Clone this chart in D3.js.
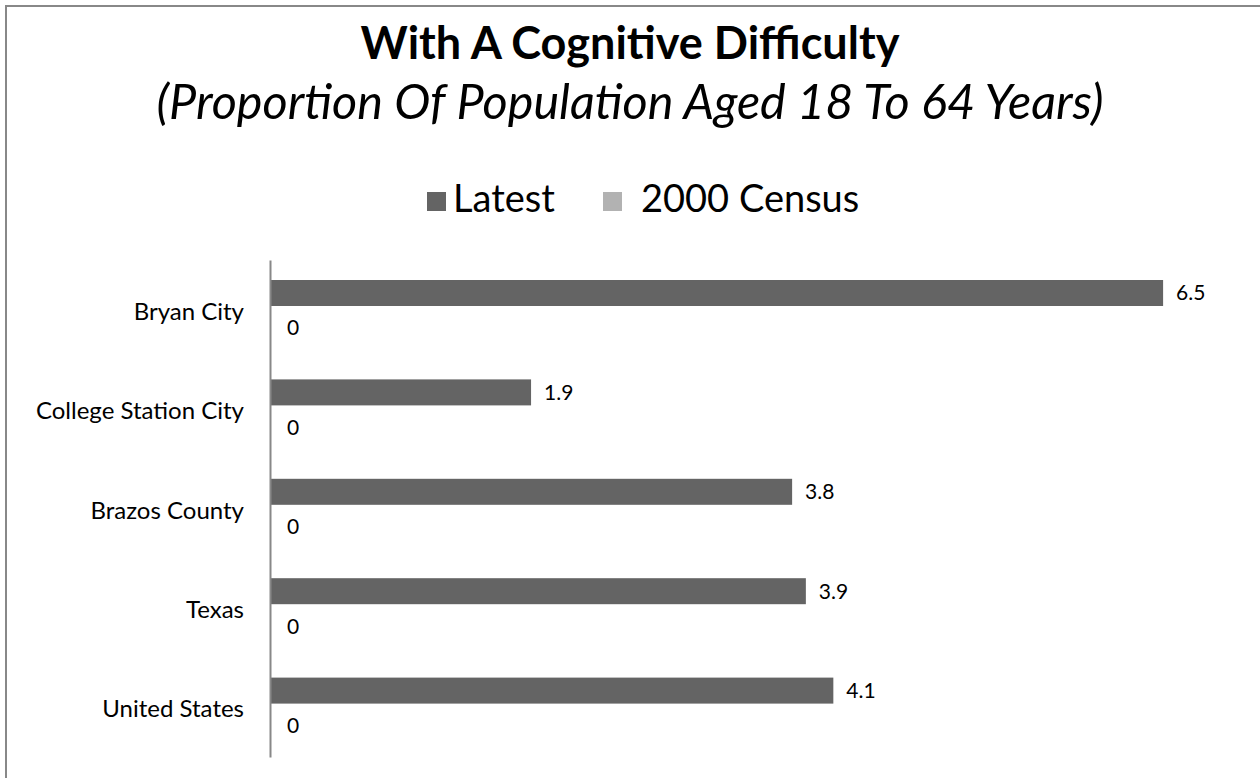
<!DOCTYPE html>
<html><head><meta charset="utf-8">
<script src="https://cdn.jsdelivr.net/npm/d3@7"></script>
<style>body{margin:0;background:#fff}svg{display:block}text{font-family:Lato,"Open Sans",sans-serif}</style>
</head><body><svg id="c" width="1260" height="778"></svg>
<script>
const categories = ["Bryan City","College Station City","Brazos County","Texas","United States"];
const latest = [6.5, 1.9, 3.8, 3.9, 4.1];
const census2000 = [0, 0, 0, 0, 0];
const seriesNames = ["Latest","2000 Census"];
const seriesColors = ["#646464","#b2b2b2"];
const titleText = "With A Cognitive Difficulty";
const subtitleText = "(Proportion Of Population Aged 18 To 64 Years)";

(function(){
const svg = d3.select("#c");
svg.append("rect").attr("x",6).attr("y",6).attr("width",1300).attr("height",800)
  .attr("fill","#fff").attr("stroke","#888").attr("stroke-width",2);

svg.append("text").attr("x",630).attr("y",59).attr("text-anchor","middle")
  .attr("font-size",45).attr("font-weight","bold").text(titleText);
svg.append("text").attr("x",630).attr("y",119).attr("text-anchor","middle")
  .attr("font-size",48.5).attr("font-style","italic").text(subtitleText);

const mLeft = 270, mTop = 260, mBottom = 757;
const x = d3.scaleLinear().domain([0,7]).range([mLeft, mLeft + 7*137.4]);
const y = d3.scaleBand().domain(categories).range([mTop,mBottom]);
const sub = d3.scaleBand().domain(seriesNames).range([20, 72]);

const legend = svg.append("g");
const legX = [427, 603];
seriesNames.forEach((n,i)=>{
  legend.append("rect").attr("x",legX[i]).attr("y",192).attr("width",19).attr("height",19).attr("fill",seriesColors[i]);
  legend.append("text").attr("x",legX[i]+(i?38:26)).attr("y",212).attr("font-size",38).text(n);
});

const data = categories.map((c,i)=>({cat:c, vals:[latest[i], census2000[i]]}));
const g = svg.append("g");
data.forEach(d=>{
  d.vals.forEach((v,j)=>{
    const yy = y(d.cat) + sub(seriesNames[j]);
    g.append("rect").attr("x",x(0)).attr("y",yy).attr("width",x(v)-x(0)).attr("height",sub.bandwidth())
      .attr("fill",seriesColors[j]);
    g.append("text").attr("x",x(v)+ (v>0?13:17)).attr("y",yy+sub.bandwidth()/2 + (v>0?0:9)).attr("dy","0.35em")
      .attr("font-size",21).text(v===0?"0":d3.format(".1f")(v));
  });
});

const yAxis = d3.axisLeft(y).tickSize(0).tickPadding(26);
const ga = svg.append("g").attr("transform",`translate(${mLeft},0)`).call(yAxis);
ga.select(".domain").attr("stroke","#888").attr("stroke-width",2);
ga.selectAll(".tick text").attr("font-size",24).attr("font-family","Lato,sans-serif").attr("fill","#000").attr("dy","0.42em");
})();
</script></body></html>
